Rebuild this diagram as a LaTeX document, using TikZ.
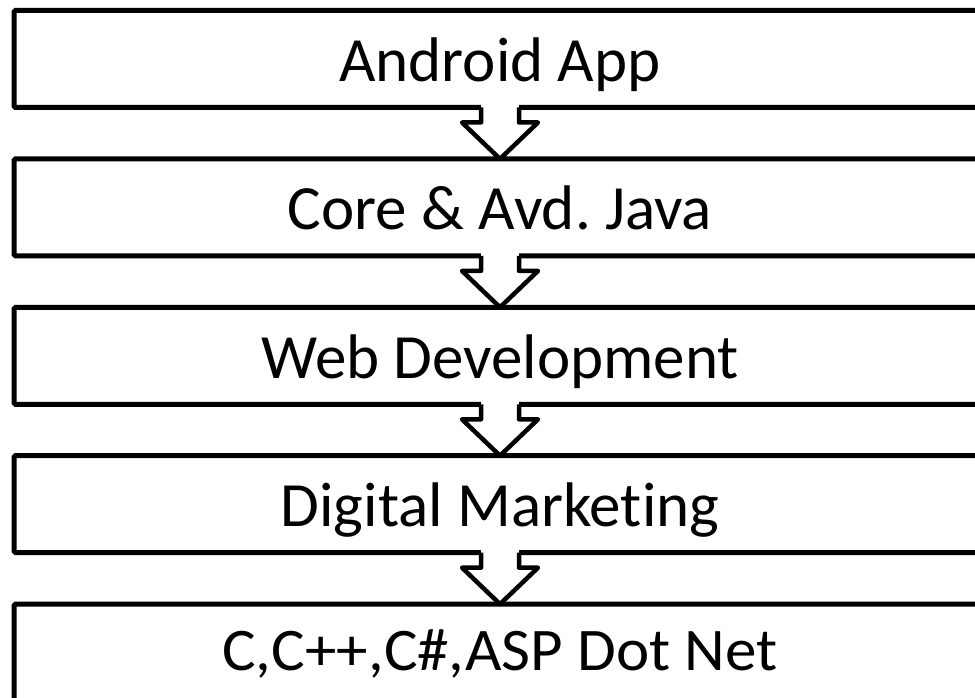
\documentclass[tikz,border=0pt]{standalone}
\usepackage{fontspec}
\setmainfont[Ligatures=NoCommon]{Carlito}
\frenchspacing
\begin{document}
\begin{tikzpicture}[x=1pt,y=1pt,
  stagebox/.style={draw=black, line width=5pt, rounded corners=1.5pt, fill=white,
    minimum width=972pt, minimum height=97pt, inner sep=0pt, outer sep=0pt,
    text height=45pt, text depth=0pt,
    font=\fontsize{63}{70}\selectfont, text=black},
  flowarrow/.style={draw=black, line width=4.5pt, line join=round, fill=white}]
\useasboundingbox (0,0) rectangle (975,-698);
\clip (0,0) rectangle (975,-698);
\fill[white] (0,0) rectangle (975,-698);
\node[stagebox] (b1) at (500,-59) {Android App};
\node[stagebox] (b2) at (500,-207.4) {Core \& Avd. Java};
\node[stagebox] (b3) at (500,-355.8) {Web Development};
\node[stagebox] (b4) at (500,-504.2) {Digital Marketing};
\node[stagebox, text height=35pt] (b5) at (500,-652.6) {\scalebox{1}[0.96]{C,C++,C\#,ASP Dot Net}};
\foreach \a/\b in {b1/b2,b2/b3,b3/b4,b4/b5}{
  \fill[white] ([xshift=-19pt,yshift=3pt]\a.south) rectangle ([xshift=19pt,yshift=-3pt]\a.south);
  \draw[flowarrow] ([xshift=-19pt]\a.south) -- ++(0,-15) -- ++(-19,0)
     -- (\b.north) -- ([xshift=38pt,yshift=-15pt]\a.south) -- ++(-19,0) -- ([xshift=19pt]\a.south);
}
\end{tikzpicture}
\end{document}
